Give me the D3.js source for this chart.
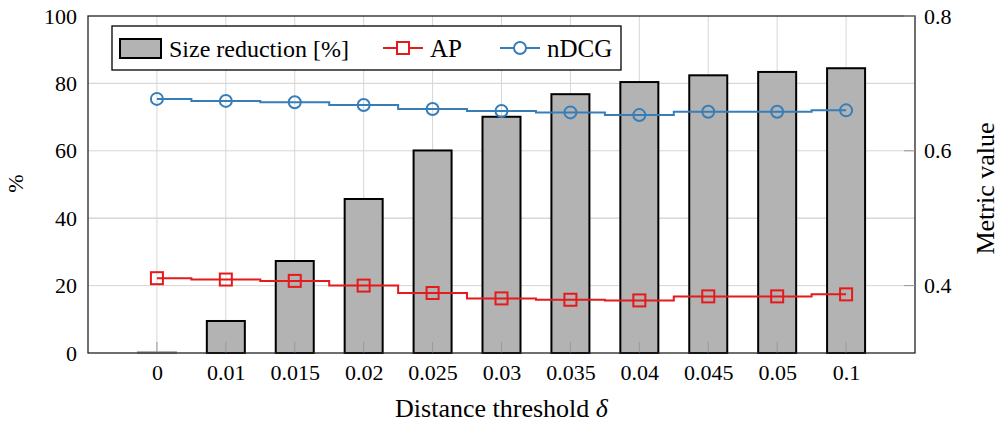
<!DOCTYPE html>
<html>
<head>
<meta charset="utf-8">
<script src="https://cdn.jsdelivr.net/npm/d3@7"></script>
<style>
  body { margin: 0; background: #fff; }
  svg text { font-family: 'Liberation Serif', 'Times New Roman', serif; }
</style>
</head>
<body>
<div id="chart"></div>
<script>
// data
var thresholds = ["0", "0.01", "0.015", "0.02", "0.025", "0.03", "0.035", "0.04", "0.045", "0.05", "0.1"];
var sizeReduction = [0.3, 9.5, 27.3, 45.7, 60.1, 70.1, 76.8, 80.4, 82.4, 83.4, 84.5];
var apValues = [0.411, 0.409, 0.407, 0.400, 0.389, 0.381, 0.379, 0.378, 0.384, 0.384, 0.387];
var ndcgValues = [0.677, 0.674, 0.672, 0.668, 0.662, 0.659, 0.657, 0.653, 0.658, 0.658, 0.660];
var leftTicks = [0, 20, 40, 60, 80, 100];
var rightTicks = [0.4, 0.6, 0.8];
var rightGrid = [0.5, 0.7];

var width = 1001, height = 425;
var margin = {top: 16, right: 86, bottom: 72, left: 88};
var innerW = width - margin.left - margin.right;
var innerH = height - margin.top - margin.bottom;

var red = "#e41a1c", blue = "#377eb8";
var tickFont = "22px", labelFont = "26px", legendFont = "24px";

var svg = d3.select("#chart").append("svg")
    .attr("width", width)
    .attr("height", height);

var g = svg.append("g")
    .attr("transform", "translate(" + margin.left + "," + margin.top + ")");

var x = d3.scalePoint()
    .domain(thresholds)
    .range([0, innerW])
    .padding(1);

var yLeft = d3.scaleLinear().domain([0, 100]).range([innerH, 0]);
var yRight = d3.scaleLinear().domain([0.3, 0.8]).range([innerH, 0]);

// grid
g.selectAll(null)
    .data(thresholds)
    .enter()
    .append("line")
    .attr("x1", d => x(d)).attr("x2", d => x(d))
    .attr("y1", 0).attr("y2", innerH)
    .attr("stroke", "#d6d6d6").attr("stroke-width", 1);

g.selectAll(null)
    .data(leftTicks.slice(1, -1))
    .enter()
    .append("line")
    .attr("x1", 0).attr("x2", innerW)
    .attr("y1", d => yLeft(d)).attr("y2", d => yLeft(d))
    .attr("stroke", "#d6d6d6").attr("stroke-width", 1);

g.selectAll(null)
    .data(rightGrid)
    .enter()
    .append("line")
    .attr("x1", 0).attr("x2", innerW)
    .attr("y1", d => yRight(d)).attr("y2", d => yRight(d))
    .attr("stroke", "#d6d6d6").attr("stroke-width", 1);

// bars
var barW = 38;
g.selectAll(null)
    .data(sizeReduction)
    .enter()
    .append("rect")
    .attr("x", (d, i) => x(thresholds[i]) - barW / 2)
    .attr("y", d => yLeft(d))
    .attr("width", barW)
    .attr("height", d => innerH - yLeft(d))
    .attr("fill", "#b3b3b3")
    .attr("stroke", (d) => d < 1 ? "#b3b3b3" : "#000")
    .attr("stroke-width", 2);

// small inner ticks at bottom
g.selectAll(null)
    .data(thresholds)
    .enter()
    .append("line")
    .attr("x1", d => x(d)).attr("x2", d => x(d))
    .attr("y1", innerH).attr("y2", innerH - 11)
    .attr("stroke", "#999").attr("stroke-width", 1);

// step lines
function drawSeries(values, color, marker) {
    var pts = values.map((v, i) => [x(thresholds[i]), yRight(v)]);
    g.append("path")
        .datum(pts)
        .attr("fill", "none")
        .attr("stroke", color)
        .attr("stroke-width", 2)
        .attr("d", d3.line().curve(d3.curveStep));
    if (marker == "square") {
        g.selectAll(null)
            .data(pts)
            .enter()
            .append("rect")
            .attr("x", d => d[0] - 6).attr("y", d => d[1] - 6)
            .attr("width", 12).attr("height", 12)
            .attr("fill", "none").attr("stroke", color).attr("stroke-width", 2);
    } else {
        g.selectAll(null)
            .data(pts)
            .enter()
            .append("circle")
            .attr("cx", d => d[0]).attr("cy", d => d[1])
            .attr("r", 6)
            .attr("fill", "none").attr("stroke", color).attr("stroke-width", 2);
    }
}
drawSeries(apValues, red, "square");
drawSeries(ndcgValues, blue, "circle");

// frame
g.append("rect")
    .attr("x", 0).attr("y", 0)
    .attr("width", innerW).attr("height", innerH)
    .attr("fill", "none").attr("stroke", "#222").attr("stroke-width", 1.3);

// axes
var axL = g.append("g")
    .call(d3.axisLeft(yLeft).tickValues(leftTicks).tickSize(0).tickPadding(11));
axL.attr("font-family", null).attr("font-size", null);
axL.select(".domain").remove();
axL.selectAll("text").style("font-size", tickFont).attr("fill", "#000");

var axR = g.append("g")
    .attr("transform", "translate(" + innerW + ",0)")
    .call(d3.axisRight(yRight).tickValues(rightTicks).tickFormat(d3.format(".1f")).tickSize(0).tickPadding(9));
axR.attr("font-family", null).attr("font-size", null);
axR.select(".domain").remove();
axR.selectAll("text").style("font-size", tickFont).attr("fill", "#000");

g.selectAll(null)
    .data(rightTicks)
    .enter()
    .append("line")
    .attr("x1", innerW - 11).attr("x2", innerW)
    .attr("y1", d => yRight(d)).attr("y2", d => yRight(d))
    .attr("stroke", "#999");

var axB = g.append("g")
    .attr("transform", "translate(0," + innerH + ")")
    .call(d3.axisBottom(x).tickSize(0).tickPadding(11));
axB.attr("font-family", null).attr("font-size", null);
axB.select(".domain").remove();
axB.selectAll("text").style("font-size", tickFont).attr("fill", "#000");

// axis labels
svg.append("text")
    .attr("x", margin.left + innerW / 2)
    .attr("y", 417)
    .attr("text-anchor", "middle")
    .style("font-size", labelFont)
    .html("Distance threshold <tspan font-style='italic'>δ</tspan>");

svg.append("text")
    .attr("transform", "translate(23," + (margin.top + innerH / 2 - 1) + ") rotate(-90)")
    .attr("text-anchor", "middle")
    .style("font-size", "22px")
    .text("%");

svg.append("text")
    .attr("transform", "translate(994," + (margin.top + innerH / 2 + 4) + ") rotate(-90)")
    .attr("text-anchor", "middle")
    .style("font-size", labelFont)
    .text("Metric value");

// legend
var leg = svg.append("g").attr("transform", "translate(112,26)");
leg.append("rect")
    .attr("width", 509).attr("height", 44)
    .attr("fill", "#fff").attr("stroke", "#000").attr("stroke-width", 1.3);
leg.append("rect")
    .attr("x", 8).attr("y", 13).attr("width", 41).attr("height", 19)
    .attr("fill", "#b3b3b3").attr("stroke", "#000").attr("stroke-width", 2);
leg.append("text").attr("x", 57).attr("y", 31).style("font-size", legendFont).text("Size reduction [%]");

leg.append("line").attr("x1", 271).attr("x2", 311).attr("y1", 22).attr("y2", 22)
    .attr("stroke", red).attr("stroke-width", 2);
leg.append("rect").attr("x", 285).attr("y", 16).attr("width", 12).attr("height", 12)
    .attr("fill", "#fff").attr("stroke", red).attr("stroke-width", 2);
leg.append("text").attr("x", 318).attr("y", 31).style("font-size", "25px").text("AP");

leg.append("line").attr("x1", 388).attr("x2", 428).attr("y1", 22).attr("y2", 22)
    .attr("stroke", blue).attr("stroke-width", 2);
leg.append("circle").attr("cx", 408).attr("cy", 22).attr("r", 6)
    .attr("fill", "#fff").attr("stroke", blue).attr("stroke-width", 2);
leg.append("text").attr("x", 435).attr("y", 31).style("font-size", "25px").text("nDCG");
</script>
</body>
</html>
